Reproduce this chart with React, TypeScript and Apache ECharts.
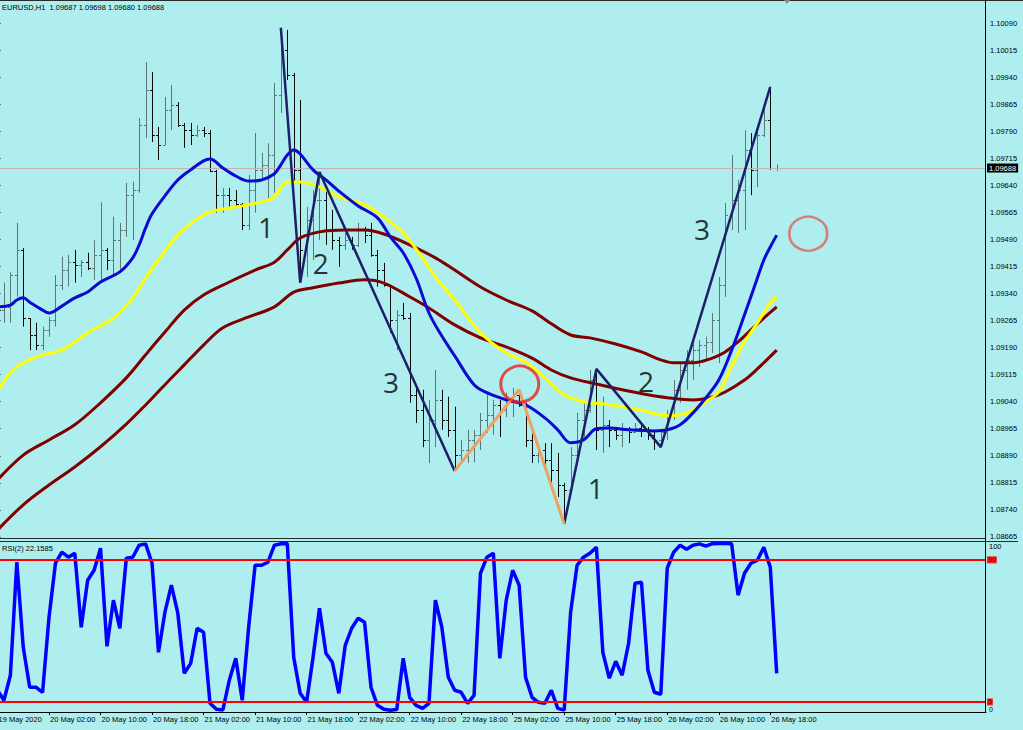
import React, { useEffect, useRef } from 'react';
import * as echarts from 'echarts';

// ---------- DATA ----------
const barOpen = [1.09322,1.09294,1.09303,1.09391,1.09461,1.09272,1.09225,1.09197,1.09239,1.09267,
1.09364,1.09405,1.09427,1.09419,1.09427,1.09411,1.09447,1.09461,1.09433,1.09488,
1.09516,1.09613,1.09627,1.09807,1.09904,1.09779,1.09752,1.09849,1.09863,1.09807,
1.09793,1.09779,1.09793,1.09785,1.09680,1.09613,1.09613,1.09599,1.09588,1.09530,
1.09627,1.09683,1.09697,1.09724,1.09890,1.10015,1.09946,1.09683,1.09461,1.09544,
1.09599,1.09599,1.09516,1.09488,1.09475,1.09488,1.09475,1.09516,1.09502,1.09447,
1.09405,1.09364,1.09267,1.09280,1.09272,1.09059,1.09017,1.08934,1.08989,1.09045,
1.08989,1.08962,1.08892,1.08906,1.08934,1.08948,1.08989,1.09003,1.09031,1.09017,
1.09045,1.09059,1.09031,1.08934,1.08892,1.08906,1.08878,1.08851,1.08809,1.08795,
1.08892,1.08989,1.09017,1.09100,1.08962,1.08975,1.08962,1.08948,1.08962,1.08956,
1.08967,1.08962,1.08948,1.08934,1.08956,1.09003,1.09073,1.09128,1.09156,1.09183,
1.09197,1.09205,1.09267,1.09364,1.09558,1.09599,1.09627,1.09738,1.09683,1.09779,
1.09821,1.09687];
const barHigh = [1.09336,1.09370,1.09399,1.09536,1.09466,1.09272,1.09259,1.09248,1.09275,1.09391,
1.09442,1.09447,1.09461,1.09433,1.09453,1.09488,1.09593,1.09466,1.09553,1.09536,
1.09647,1.09650,1.09827,1.09982,1.09954,1.09802,1.09885,1.09918,1.09871,1.09813,
1.09813,1.09807,1.09802,1.09793,1.09683,1.09633,1.09633,1.09627,1.09591,1.09669,
1.09785,1.09730,1.09757,1.09924,1.10077,1.10071,1.09952,1.09877,1.09580,1.09627,
1.09677,1.09641,1.09572,1.09497,1.09508,1.09497,1.09536,1.09525,1.09536,1.09461,
1.09425,1.09364,1.09294,1.09314,1.09286,1.09081,1.09073,1.09045,1.09128,1.09073,
1.09054,1.09026,1.08934,1.08962,1.08962,1.09009,1.09065,1.09045,1.09045,1.09065,
1.09078,1.09073,1.09037,1.08970,1.08925,1.08925,1.08925,1.08898,1.08815,1.08914,
1.09009,1.09037,1.09128,1.09131,1.09054,1.08989,1.08970,1.08981,1.08970,1.08981,
1.08981,1.08970,1.08962,1.08962,1.09017,1.09100,1.09147,1.09183,1.09203,1.09211,
1.09220,1.09286,1.09386,1.09591,1.09724,1.09655,1.09793,1.09785,1.09793,1.09868,
1.09913,1.09698];
const barLow = [1.09267,1.09259,1.09259,1.09331,1.09248,1.09183,1.09183,1.09183,1.09220,1.09248,
1.09350,1.09359,1.09370,1.09386,1.09405,1.09378,1.09378,1.09405,1.09386,1.09397,
1.09497,1.09488,1.09619,1.09771,1.09760,1.09710,1.09752,1.09793,1.09802,1.09744,
1.09752,1.09774,1.09774,1.09677,1.09564,1.09564,1.09580,1.09580,1.09516,1.09516,
1.09564,1.09655,1.09599,1.09619,1.09841,1.09932,1.09647,1.09370,1.09386,1.09433,
1.09488,1.09475,1.09461,1.09414,1.09461,1.09461,1.09469,1.09480,1.09442,1.09359,
1.09359,1.09231,1.09183,1.09267,1.09037,1.08981,1.08914,1.08870,1.08914,1.08962,
1.08942,1.08848,1.08870,1.08870,1.08872,1.08906,1.08954,1.08948,1.08942,1.08997,
1.08997,1.09026,1.08914,1.08870,1.08870,1.08859,1.08795,1.08776,1.08701,1.08795,
1.08878,1.08942,1.09009,1.08906,1.08898,1.08914,1.08934,1.08914,1.08925,1.08954,
1.08942,1.08934,1.08906,1.08914,1.08934,1.08989,1.09037,1.09073,1.09100,1.09136,
1.09156,1.09175,1.09147,1.09331,1.09516,1.09508,1.09516,1.09613,1.09635,1.09774,
1.09683,1.09680];
const barClose = [1.09294,1.09303,1.09391,1.09461,1.09272,1.09225,1.09197,1.09239,1.09267,1.09364,
1.09405,1.09427,1.09419,1.09427,1.09411,1.09447,1.09461,1.09433,1.09488,1.09516,
1.09613,1.09627,1.09807,1.09904,1.09779,1.09752,1.09849,1.09863,1.09807,1.09793,
1.09779,1.09793,1.09785,1.09680,1.09613,1.09613,1.09599,1.09588,1.09530,1.09627,
1.09683,1.09697,1.09724,1.09890,1.10015,1.09946,1.09683,1.09461,1.09544,1.09599,
1.09599,1.09516,1.09488,1.09475,1.09488,1.09475,1.09516,1.09502,1.09447,1.09405,
1.09364,1.09267,1.09280,1.09272,1.09059,1.09017,1.08934,1.08989,1.09045,1.08989,
1.08962,1.08892,1.08906,1.08934,1.08948,1.08989,1.09003,1.09031,1.09017,1.09045,
1.09059,1.09031,1.08934,1.08892,1.08906,1.08878,1.08851,1.08809,1.08795,1.08892,
1.08989,1.09017,1.09100,1.08962,1.08975,1.08962,1.08948,1.08962,1.08956,1.08967,
1.08962,1.08948,1.08934,1.08956,1.09003,1.09073,1.09128,1.09156,1.09183,1.09197,
1.09205,1.09267,1.09364,1.09558,1.09599,1.09627,1.09738,1.09683,1.09779,1.09821,
1.09687,1.09688];

// moving averages sampled at bar index: [bar, price]
const maBlue = [[0,1.09303],[2,1.09308],[3,1.09322],[4,1.09328],[5,1.09316],[7,1.09294],[8,1.09286],[10,1.09305],[12,1.09328],[14,1.09344],[16,1.09372],[19,1.09400],[21,1.09439],[22,1.09475],[23,1.09522],[24,1.09561],[26,1.09611],[28,1.09655],[30,1.09683],[32,1.09708],[33,1.09713],[35,1.09688],[37,1.09666],[39,1.09652],[41,1.09655],[43,1.09672],[44,1.09697],[45,1.09724],[46,1.09738],[47,1.09727],[49,1.09683],[51,1.09655],[53,1.09624],[56,1.09583],[59,1.09550],[61,1.09497],[63,1.09453],[65,1.09383],[67,1.09286],[69,1.09222],[71,1.09167],[74,1.09087],[76,1.09065],[79,1.09045],[82,1.09031],[85,1.08995],[87,1.08962],[89,1.08926],[91,1.08934],[93,1.08965],[95,1.08967],[98,1.08962],[102,1.08959],[104,1.08962],[106,1.08976],[108,1.09009],[110,1.09051],[112,1.09100],[114,1.09183],[116,1.09281],[118,1.09383],[119,1.09433],[120,1.09469],[121,1.09502]];
const maYellow = [[0,1.09067],[2,1.09120],[4,1.09148],[7,1.09170],[10,1.09183],[14,1.09231],[18,1.09272],[21,1.09328],[23,1.09383],[25,1.09433],[28,1.09502],[31,1.09547],[33,1.09566],[36,1.09577],[39,1.09586],[42,1.09599],[43,1.09608],[45,1.09649],[47,1.09649],[50,1.09636],[53,1.09608],[57,1.09586],[60,1.09552],[63,1.09508],[66,1.09439],[68,1.09386],[71,1.09322],[75,1.09231],[79,1.09175],[82,1.09150],[85,1.09106],[88,1.09059],[91,1.09040],[94,1.09034],[98,1.09023],[101,1.09012],[104,1.09001],[106,1.09003],[108,1.09017],[110,1.09040],[112,1.09067],[114,1.09139],[116,1.09206],[118,1.09258],[120,1.09314],[121,1.09331]];
const maMaroonUpper = [[0,1.08823],[4,1.08892],[8,1.08934],[12,1.08976],[16,1.09037],[20,1.09106],[23,1.09170],[26,1.09233],[29,1.09294],[32,1.09336],[36,1.09372],[40,1.09405],[43,1.09427],[45,1.09461],[47,1.09494],[50,1.09511],[54,1.09516],[57,1.09516],[60,1.09505],[64,1.09475],[68,1.09439],[71,1.09405],[75,1.09358],[79,1.09322],[83,1.09292],[86,1.09256],[89,1.09225],[92,1.09217],[96,1.09200],[100,1.09178],[103,1.09156],[105,1.09148],[108,1.09148],[111,1.09161],[113,1.09178],[115,1.09206],[117,1.09239],[119,1.09272],[121,1.09303]];
const maMaroonLower = [[0,1.08684],[4,1.08754],[8,1.08809],[12,1.08859],[16,1.08915],[20,1.08978],[23,1.09031],[26,1.09087],[29,1.09142],[32,1.09197],[35,1.09245],[39,1.09275],[43,1.09303],[46,1.09344],[49,1.09356],[53,1.09369],[57,1.09378],[60,1.09369],[64,1.09331],[67,1.09300],[71,1.09253],[75,1.09217],[79,1.09192],[83,1.09161],[86,1.09128],[89,1.09106],[93,1.09089],[97,1.09073],[101,1.09059],[104,1.09051],[108,1.09045],[111,1.09053],[113,1.09067],[116,1.09100],[118,1.09131],[121,1.09183]];

// zigzag legs [bar, price]
const zigzagA = [[44,1.10077],[47,1.09370],[50,1.09677],[71,1.08848]];
const zigzagB = [[88,1.08701],[93,1.09131],[103,1.08914],[120,1.09913]];
const zigzagOrange = [[71,1.08848],[81,1.09073],[88,1.08701]];

// wave annotations [bar, price, text]
const waveLabels = [[41.7,1.09525,'1'],[50.2,1.09425,'2'],[61.1,1.09095,'3'],[92.9,1.08801,'1'],[100.7,1.09098,'2'],[109.4,1.09519,'3']];
const circles = [[81.1,1.09089],[125.9,1.09506]];

// RSI(2)
const rsi = [12.0,6.0,21.0,88.6,37.7,13.8,13.8,10.8,55.7,88.0,
94.6,91.6,94.0,49.7,77.8,83.8,97.0,38.3,65.9,49.1,
91.0,91.6,98.8,99.6,88.0,34.7,58.7,74.9,58.1,22.2,
28.1,49.1,46.7,4.2,0.6,0.2,18.0,31.1,6.0,49.7,
86.8,86.8,88.6,98.8,99.7,99.8,31.7,10.2,4.8,31.7,
61.1,34.1,28.7,10.2,38.9,49.1,55.1,52.7,13.8,3.0,
0.6,0.1,0.5,31.1,7.8,3.0,1.2,4.2,65.9,49.7,
19.8,12.0,10.8,4.2,9.0,82.0,91.6,94.0,31.1,65.9,
83.8,74.9,19.8,7.8,4.8,4.2,12.0,1.2,0.1,58.7,
86.8,91.6,94.0,97.6,34.7,19.2,29.3,21.0,40.1,76.0,
76.6,24.0,10.8,9.6,85.0,94.6,98.8,96.4,98.8,99.6,
98.2,99.7,99.8,99.8,99.7,68.9,82.0,88.0,89.8,97.6,
85.6,22.1585];
const rsiLevels = [90, 5];

// axis ticks
const priceTicks = [1.08665,1.08740,1.08815,1.08890,1.08965,1.09040,1.09115,1.09190,1.09265,1.09340,1.09415,1.09490,1.09565,1.09640,1.09715,1.09790,1.09865,1.09940,1.10015,1.10090];
const timeTickBars = [0,8,16,24,32,40,48,56,64,72,80,88,96,104,112,120];
const timeLabels = ['19 May 2020','20 May 02:00','20 May 10:00','20 May 18:00','21 May 02:00','21 May 10:00','21 May 18:00','22 May 02:00','22 May 10:00','22 May 18:00','25 May 02:00','25 May 10:00','25 May 18:00','26 May 02:00','26 May 10:00','26 May 18:00'];
const lastPrice = 1.09688;
const header = 'EURUSD,H1  1.09687 1.09698 1.09680 1.09688';
const rsiTitle = 'RSI(2) 22.1585';

const FONT = '"Liberation Sans", Arial, sans-serif';
const BG = '#AFEEEE';

export default function App() {
  const ref = useRef<HTMLDivElement>(null);
  useEffect(() => {
    const chart = echarts.init(ref.current as HTMLDivElement, null, { renderer: 'svg', width: 1023, height: 730 });
    const bars = barOpen.map((o, i) => [i, o, barHigh[i], barLow[i], barClose[i]]);
    const maLine = (data: number[][], color: string, z: number, extra: any = {}) => ({
      type: 'line', xAxisIndex: 0, yAxisIndex: 0, data, smooth: 0.35, symbol: 'none', silent: true, z,
      lineStyle: { color, width: 3 }, ...extra,
    });
    const zz = (data: number[][], color: string, width: number) => ({
      type: 'line', xAxisIndex: 0, yAxisIndex: 0, data, symbol: 'none', silent: true, z: 6,
      lineStyle: { color, width },
    });
    const xCommon = { type: 'value', min: 0, max: 153.5, splitLine: { show: false } };
    const option: any = {
      animation: false,
      backgroundColor: BG,
      grid: [
        { left: -2.5, right: 37, top: 0, height: 538, outerBoundsMode: 'none', containLabel: false },
        { left: -2.5, right: 37, top: 541.5, height: 170.5, outerBoundsMode: 'none', containLabel: false },
      ],
      xAxis: [
        { ...xCommon, gridIndex: 0, show: false },
        {
          ...xCommon, gridIndex: 1,
          axisLine: { show: true, onZero: false, lineStyle: { color: '#000', width: 1 } },
          axisTick: { show: true, customValues: timeTickBars, length: 3, lineStyle: { color: '#000' } },
          axisLabel: {
            customValues: timeTickBars, showMinLabel: true, showMaxLabel: true,
            formatter: (v: number) => timeLabels[Math.round(v / 8)] || '',
            align: 'left', color: '#000', fontSize: 7.5, fontFamily: FONT, margin: 3, padding: [0, 0, 0, 1],
          },
        },
      ],
      yAxis: [
        {
          gridIndex: 0, type: 'value', position: 'right', min: 1.08662, max: 1.10154, scale: true,
          splitLine: { show: false },
          axisLine: { show: true, lineStyle: { color: '#000' } },
          axisTick: { show: true, customValues: priceTicks, length: 3, lineStyle: { color: '#000' } },
          axisLabel: {
            customValues: priceTicks, showMinLabel: true, showMaxLabel: true,
            formatter: (v: number) => v.toFixed(5), color: '#000', fontSize: 7.5, fontFamily: FONT, margin: 4,
          },
        },
        {
          gridIndex: 1, type: 'value', position: 'right', min: -1, max: 101,
          splitLine: { show: false },
          axisLine: { show: true, lineStyle: { color: '#000' } },
          axisTick: { show: false },
          axisLabel: {
            customValues: [0, 100], showMinLabel: true, showMaxLabel: true,
            formatter: (v: number) => (v >= 100 ? '{t|100}' : '{b|0}'),
            color: '#000', fontSize: 7.5, fontFamily: FONT, margin: 3,
            rich: {
              t: { fontSize: 7.5, fontFamily: FONT, color: '#000', padding: [7, 0, 0, 0] },
              b: { fontSize: 7, fontFamily: FONT, color: '#000', padding: [0, 0, 1, 0] },
            },
          },
        },
      ],
      graphic: [
        { type: 'line', shape: { x1: 0, y1: 0.5, x2: 1023, y2: 0.5 }, style: { stroke: '#2a2a2a', lineWidth: 1 }, z: 50 },
        { type: 'line', shape: { x1: 0, y1: 538.5, x2: 986, y2: 538.5 }, style: { stroke: '#2a2a2a', lineWidth: 1 }, z: 50 },
        { type: 'line', shape: { x1: 0, y1: 541.5, x2: 1018, y2: 541.5 }, style: { stroke: '#2a2a2a', lineWidth: 1 }, z: 50 },
        { type: 'line', shape: { x1: 985.5, y1: 0, x2: 985.5, y2: 712 }, style: { stroke: '#000', lineWidth: 1 }, z: 50 },
        { type: 'polygon', shape: { points: [[784, 0], [790, 0], [787, 4]] }, style: { fill: '#8a8a8a' }, z: 50 },
        { type: 'text', x: 2, y: 7, style: { text: header, fill: '#000', fontSize: 7.5, fontFamily: FONT, verticalAlign: 'middle', align: 'left' }, z: 50 },
        { type: 'text', x: 2, y: 548.5, style: { text: rsiTitle, fill: '#000', fontSize: 7.5, fontFamily: FONT, verticalAlign: 'middle', align: 'left' }, z: 50 },
      ],
      series: [
        {
          type: 'custom', xAxisIndex: 0, yAxisIndex: 0, data: bars, silent: true, z: 2, clip: true,
          encode: { x: 0, y: [1, 2, 3, 4] },
          renderItem: (params: any, api: any) => {
            const i = api.value(0);
            const o = api.coord([i, api.value(1)]);
            const h = api.coord([i, api.value(2)]);
            const l = api.coord([i, api.value(3)]);
            const c = api.coord([i, api.value(4)]);
            const x = Math.round(h[0]) + 0.5;
            const color = api.value(4) >= api.value(1) ? '#5a7878' : '#0a0a0a';
            const st = { stroke: color, lineWidth: 1 };
            return {
              type: 'group',
              children: [
                { type: 'line', shape: { x1: x, y1: h[1], x2: x, y2: l[1] }, style: st },
                { type: 'line', shape: { x1: x - 2.5, y1: Math.round(o[1]) + 0.5, x2: x, y2: Math.round(o[1]) + 0.5 }, style: st },
                { type: 'line', shape: { x1: x, y1: Math.round(c[1]) + 0.5, x2: x + 2.5, y2: Math.round(c[1]) + 0.5 }, style: st },
              ],
            };
          },
        },
        maLine(maMaroonLower, '#800000', 3, {
          markLine: {
            silent: true, symbol: ['none', 'none'], precision: 5,
            lineStyle: { color: '#c4b2b2', width: 1, type: 'solid' },
            label: {
              show: true, position: 'end', distance: 1, formatter: lastPrice.toFixed(5),
              backgroundColor: '#000', color: '#fff', fontSize: 7.5, fontFamily: FONT, padding: [1, 2, 0, 2],
            },
            data: [{ yAxis: lastPrice }],
          },
        }),
        maLine(maMaroonUpper, '#800000', 3),
        maLine(maYellow, '#ffff00', 4),
        maLine(maBlue, '#0a0ad2', 5),
        zz(zigzagA, '#1e1e6a', 2.5),
        zz(zigzagB, '#1e1e6a', 2.5),
        zz(zigzagOrange, '#f0a060', 3),
        {
          type: 'scatter', xAxisIndex: 0, yAxisIndex: 0, silent: true, z: 7,
          symbol: 'circle',
          data: circles.map((c, k) => ({
            value: c,
            symbolSize: k === 0 ? [38, 36] : [38, 34],
            itemStyle: { color: 'rgba(0,0,0,0)', borderColor: k === 0 ? '#ee2020' : '#e06060', borderWidth: k === 0 ? 3 : 2.5 },
          })),
        },
        {
          type: 'scatter', xAxisIndex: 0, yAxisIndex: 0, silent: true, z: 8,
          symbolSize: 0,
          data: waveLabels.map((w) => ({ value: [w[0], w[1]], name: w[2] })),
          label: { show: true, position: 'inside', formatter: '{b}', fontSize: 28, fontFamily: '"Open Sans", "Noto Sans", sans-serif', color: '#000' },
        },
        {
          type: 'line', xAxisIndex: 1, yAxisIndex: 1, data: rsi.map((v, i) => [i, v]), symbol: 'none', silent: true, z: 3,
          lineStyle: { color: '#0000ff', width: 3.5 },
          markLine: {
            silent: true, symbol: ['none', 'none'],
            lineStyle: { color: '#ff0000', width: 2, type: 'solid' },
            label: {
              show: true, position: 'end', distance: 1, formatter: (p: any) => String(p.value),
              backgroundColor: '#ff2020', color: '#5a0000', fontSize: 7, fontFamily: FONT, padding: [0, 1, 0, 1],
            },
            data: rsiLevels.map((v) => ({ yAxis: v })),
          },
        },
      ],
    };
    chart.setOption(option);
    return () => chart.dispose();
  }, []);
  return <div ref={ref} style={{ position: 'fixed', left: 0, top: 0, width: 1023, height: 730, background: BG }} />;
}
